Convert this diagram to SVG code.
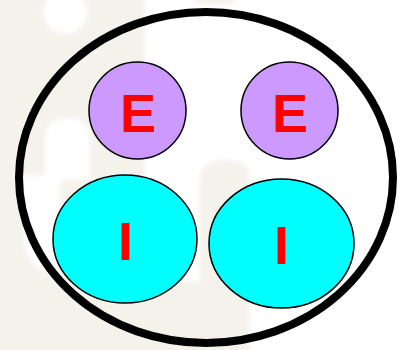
<svg xmlns="http://www.w3.org/2000/svg" width="400" height="350" viewBox="0 0 400 350">
  <style>
    .bg { fill: #f5f2ec; }
    .wb { fill: #ffffff; }
    .outer { fill: none; stroke: #000000; stroke-width: 8; }
    .e-node { fill: #cc99ff; stroke: #000000; stroke-width: 1.5; }
    .i-node { fill: #00ffff; stroke: #000000; stroke-width: 1.5; }
    .lbl { font-family: "Liberation Sans", Arial, sans-serif; font-weight: bold; font-size: 54px; fill: #ff0000; text-anchor: middle; }
  </style>
  <defs>
    <filter id="soft" x="-20%" y="-20%" width="140%" height="140%">
      <feGaussianBlur stdDeviation="2.5"/>
    </filter>
  </defs>
  <rect x="0" y="0" width="400" height="350" fill="#ffffff"/>
  <g id="background" filter="url(#soft)">
    <rect class="bg" x="-10" y="-10" width="155" height="370"/>
    <path class="bg" d="M145 282 L200 282 L200 180 Q200 160 225 160 Q250 160 250 180 L250 360 L145 360 Z"/>
    <path class="bg" d="M195 -10 L235 -10 L235 2 Q215 10 195 2 Z"/>
    <ellipse class="wb" cx="65" cy="12" rx="22" ry="22"/>
    <path class="wb" d="M45 140 Q45 118 67 118 Q90 118 90 140 L90 180 L55 180 L55 175 L45 175 Z"/>
    <path class="wb" d="M22 175 L60 175 L60 270 Q40 280 25 250 Z"/>
  </g>
  <g id="outer">
    <ellipse class="outer" cx="206" cy="177.5" rx="187" ry="165.5"/>
  </g>
  <g id="connectors"></g>
  <g id="e1">
    <circle class="e-node" cx="137.5" cy="110.5" r="48.5"/>
    <text class="lbl" x="138" y="132">E</text>
  </g>
  <g id="e2">
    <circle class="e-node" cx="289.5" cy="110.5" r="48.5"/>
    <text class="lbl" x="290" y="132">E</text>
  </g>
  <g id="i1">
    <ellipse class="i-node" cx="125" cy="239" rx="72" ry="64"/>
    <text class="lbl" x="125.5" y="260">I</text>
  </g>
  <g id="i2">
    <ellipse class="i-node" cx="281.5" cy="243.5" rx="72.5" ry="64.5"/>
    <text class="lbl" x="281.5" y="264">I</text>
  </g>
</svg>
